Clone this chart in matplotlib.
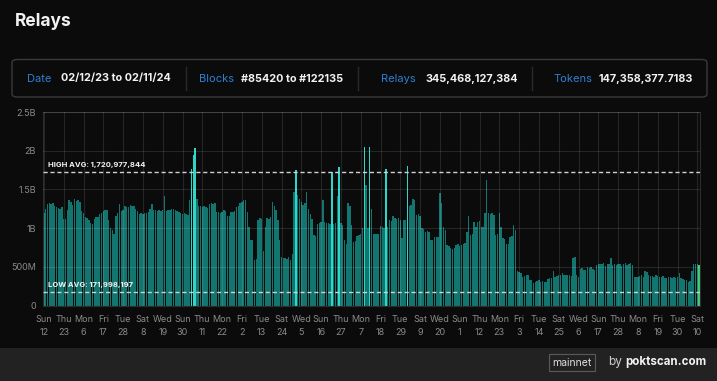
import numpy as np
import pandas as pd
import matplotlib
matplotlib.use('Agg')
import matplotlib.pyplot as plt
from matplotlib.patches import FancyBboxPatch, Rectangle

plt.rcParams['font.family'] = ['Inter', 'DejaVu Sans']

start_date = '2023-02-12'

# daily relays in billions (02/12/23 .. 02/11/24)
relays_b = [
    1.20, 1.25, 1.31, 1.33, 1.31, 1.33, 1.29, 1.27, 1.26, 1.25,
    1.27, 1.12, 1.12, 1.23, 1.36, 1.34, 1.30, 1.38, 1.35, 1.36,
    1.34, 1.22, 1.20, 1.14, 1.13, 1.10, 1.06, 1.05, 1.12, 1.14,
    1.14, 1.18, 1.20, 1.22, 1.24, 1.23, 1.10, 1.00, 0.98, 0.92,
    1.16, 1.19, 1.31, 1.22, 1.23, 1.28, 1.27, 1.27, 1.30, 1.29,
    1.28, 1.25, 1.22, 1.18, 1.19, 1.18, 1.19, 1.20, 1.21, 1.25,
    1.31, 1.24, 1.23, 1.22, 1.24, 1.22, 1.23, 1.42, 1.22, 1.24,
    1.23, 1.25, 1.25, 1.24, 1.22, 1.21, 1.20, 1.18, 1.19, 1.18,
    1.17, 1.36, 1.77, 1.94, 2.03, 1.37, 1.29, 1.28, 1.27, 1.28,
    1.27, 1.26, 1.31, 1.32, 1.31, 1.32, 1.21, 1.21, 1.20, 1.21,
    1.23, 1.22, 1.16, 1.15, 1.21, 1.21, 1.22, 1.27, 1.28, 1.33,
    1.34, 1.36, 1.36, 1.21, 1.02, 0.85, 0.84, 0.59, 0.60, 1.10,
    1.13, 1.12, 0.70, 1.02, 1.13, 1.12, 1.14, 1.34, 1.28, 1.23,
    1.10, 0.85, 0.63, 0.62, 0.61, 0.60, 0.63, 0.59, 0.66, 1.47,
    1.75, 1.43, 1.38, 1.34, 1.30, 1.33, 1.47, 1.25, 1.18, 1.12,
    0.91, 0.90, 1.05, 1.06, 1.08, 1.36, 1.08, 1.07, 1.06, 1.05,
    1.73, 1.05, 1.06, 1.41, 1.79, 1.06, 1.04, 0.85, 0.80, 1.32,
    1.28, 1.04, 0.82, 0.83, 0.90, 0.91, 0.92, 1.00, 2.05, 1.56,
    1.00, 2.05, 1.25, 0.93, 0.93, 0.92, 0.93, 1.03, 1.02, 1.00,
    1.77, 1.02, 1.10, 1.09, 1.16, 1.13, 1.12, 1.13, 1.11, 0.87,
    1.10, 1.10, 1.80, 1.28, 1.30, 1.38, 1.36, 1.17, 1.18, 1.16,
    1.00, 0.99, 0.95, 0.96, 0.95, 0.85, 0.84, 0.89, 0.88, 0.89,
    1.45, 1.32, 1.02, 0.98, 0.78, 0.77, 0.74, 0.73, 0.74, 0.78,
    0.79, 0.77, 0.78, 0.80, 0.81, 0.95, 1.15, 0.91, 0.92, 1.08,
    1.02, 1.08, 1.09, 1.02, 1.01, 1.19, 1.62, 1.19, 1.18, 1.20,
    1.17, 0.91, 0.92, 1.19, 1.02, 0.87, 0.86, 0.80, 0.79, 0.89,
    0.90, 1.04, 0.98, 0.44, 0.43, 0.42, 0.37, 0.38, 0.39, 0.40,
    0.33, 0.33, 0.29, 0.30, 0.32, 0.33, 0.31, 0.32, 0.31, 0.31,
    0.34, 0.35, 0.35, 0.44, 0.37, 0.38, 0.39, 0.39, 0.42, 0.40,
    0.39, 0.40, 0.39, 0.38, 0.61, 0.63, 0.39, 0.37, 0.47, 0.48,
    0.46, 0.46, 0.50, 0.49, 0.50, 0.47, 0.46, 0.52, 0.53, 0.54,
    0.54, 0.55, 0.51, 0.53, 0.54, 0.61, 0.52, 0.53, 0.52, 0.54,
    0.53, 0.51, 0.54, 0.55, 0.52, 0.53, 0.55, 0.52, 0.37, 0.37,
    0.37, 0.38, 0.39, 0.37, 0.44, 0.43, 0.39, 0.38, 0.38, 0.37,
    0.39, 0.38, 0.37, 0.37, 0.38, 0.36, 0.36, 0.37, 0.37, 0.36,
    0.37, 0.36, 0.37, 0.42, 0.35, 0.34, 0.33, 0.33, 0.31, 0.32,
    0.44, 0.53, 0.54, 0.54, 0.52,
]

high_avg = 1720977844
low_avg = 171998197

y_ticks = [0, 0.5e9, 1e9, 1.5e9, 2e9, 2.5e9]
y_tick_labels = ['0', '500M', '1B', '1.5B', '2B', '2.5B']
tick_step = 11

header_labels = ['Date', 'Blocks', 'Relays', 'Tokens']
header_values = ['02/12/23 to 02/11/24', '#85420 to #122135',
                 '345,468,127,384', '147,358,377.7183']

bg = '#0b0b0b'
bar_c = '#12756f'
bright_c = '#2fd6c8'
last_c = '#3ccf73'
blue = '#2f7fd2'
W, H = 717, 381


def fx(px):
    return px / W


def fy(py):
    return 1 - py / H


relays = np.array(relays_b) * 1e9
dates = pd.date_range(start_date, periods=len(relays), freq='D')
x = np.arange(len(relays))

colors = [bright_c if v > high_avg else bar_c for v in relays]
colors[-1] = last_c

fig = plt.figure(figsize=(W / 100, H / 100), dpi=100, facecolor=bg)

# footer band
fig.patches.append(Rectangle((0, 0), 1, fy(347.5), transform=fig.transFigure,
                             facecolor='#222222', edgecolor='none', zorder=0))

fig.text(fx(15), fy(21), 'Relays', color='#f2f2f2', fontsize=12.5,
         fontweight='bold', va='center')

# header box with stats
fig.patches.append(FancyBboxPatch((fx(12), fy(97)), fx(695), (97 - 59.5) / H,
                                  boxstyle='round,pad=0,rounding_size=0.008',
                                  transform=fig.transFigure, facecolor=bg,
                                  edgecolor='#3a3a3a', lw=1))
label_x = [27, 199, 381, 553]
value_x = [61, 241, 425, 599]
for lab, val, lx, vx in zip(header_labels, header_values, label_x, value_x):
    fig.text(fx(lx), fy(78.5), lab, color=blue, fontsize=8, va='center')
    fig.text(fx(vx), fy(78.5), val, color='#f2f2f2', fontsize=7.8,
             fontweight='bold', va='center')
for sx in [186, 358, 532]:
    fig.add_artist(plt.Line2D([fx(sx), fx(sx)], [fy(67), fy(90)],
                              transform=fig.transFigure, color='#2a2a2a', lw=1))

ax = fig.add_axes([fx(43), fy(305.5), fx(700 - 43), (305.5 - 112) / H])
ax.set_facecolor(bg)
ax.bar(x, relays, width=0.85, color=colors, linewidth=0, zorder=2)

ax.axhline(high_avg, color='#d0d0d0', lw=1, ls=(0, (3, 2)), zorder=4)
ax.axhline(low_avg, color='#d0d0d0', lw=1, ls=(0, (3, 2)), zorder=4)
ax.text(2, high_avg + 0.05e9, 'HIGH AVG: {:,}'.format(high_avg), color='#f2f2f2',
        fontsize=5.5, fontweight='bold', va='bottom', zorder=5)
ax.text(2, low_avg + 0.05e9, 'LOW AVG: {:,}'.format(low_avg), color='#f2f2f2',
        fontsize=5.5, fontweight='bold', va='bottom', zorder=5)

ax.set_xlim(-0.5, len(relays) - 0.5)
ax.set_ylim(0, 2.5e9)
ax.set_yticks(y_ticks)
ax.set_yticklabels(y_tick_labels)
tick_pos = x[::tick_step]
ax.set_xticks(tick_pos)
ax.set_xticklabels([d.strftime('%a') + '\n' + str(d.day) for d in dates[::tick_step]],
                   linespacing=1.5)
ax.tick_params(axis='both', length=0, colors='#8a8a8a', labelsize=6.5)
ax.tick_params(axis='x', pad=7)
ax.tick_params(axis='y', pad=5)
# grid drawn over the bars, faint
ax.set_axisbelow(False)
ax.grid(True, color='white', alpha=0.11, lw=0.8, zorder=3)
for s in ax.spines.values():
    s.set_color('#2c2c2c')
    s.set_linewidth(0.8)

# footer: network tag and credit
fig.text(fx(572), fy(362.5), 'mainnet', color='#e0e0e0', fontsize=7.5,
         ha='center', va='center',
         bbox=dict(boxstyle='square,pad=0.35', facecolor='#222222',
                   edgecolor='#5a5a5a', lw=0.8))
fig.text(fx(608), fy(362.5), 'by', color='#d0d0d0', fontsize=8.5, va='center')
fig.text(fx(625), fy(362.5), 'poktscan.com', color='#f2f2f2', fontsize=8.3,
         fontweight='bold', va='center')

fig.savefig('out.png', dpi=100, facecolor=bg)
